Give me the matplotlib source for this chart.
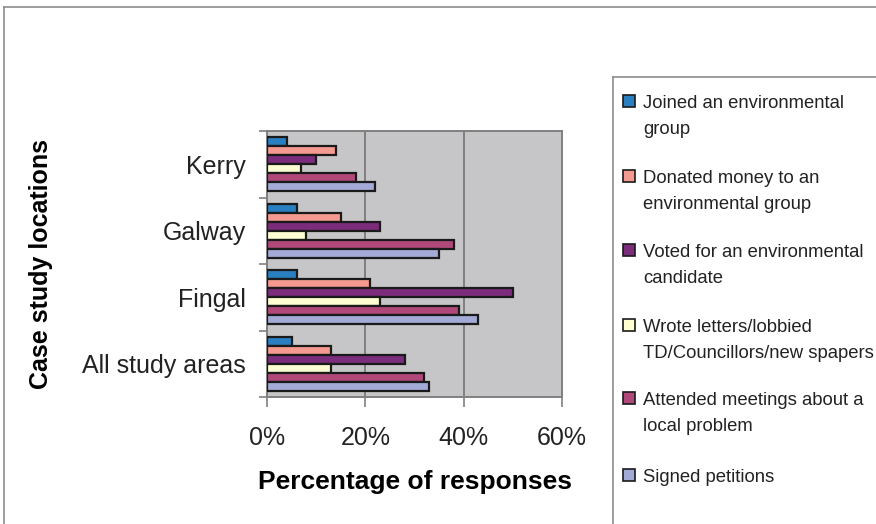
import matplotlib
matplotlib.use("Agg")
import matplotlib.pyplot as plt
from matplotlib.patches import Rectangle
import numpy as np

plt.rcParams['font.family'] = ['Liberation Sans', 'DejaVu Sans']

# data (bottom to top on the y axis)
locations = ['All study areas', 'Fingal', 'Galway', 'Kerry']
series_names = [
    'Joined an environmental\ngroup',
    'Donated money to an\nenvironmental group',
    'Voted for an environmental\ncandidate',
    'Wrote letters/lobbied\nTD/Councillors/new spapers',
    'Attended meetings about a\nlocal problem',
    'Signed petitions',
]
joined = [5, 6, 6, 4]
donated = [13, 21, 15, 14]
voted = [28, 50, 23, 10]
wrote = [13, 23, 8, 7]
attended = [32, 39, 38, 18]
signed = [33, 43, 35, 22]
colors = ['#2A7FC0', '#F59A90', '#7B2C7A', '#FFFFD2', '#B0497A', '#A3AAD6']
x_ticks = [0, 20, 40, 60]

all_series = [joined, donated, voted, wrote, attended, signed]

fig = plt.figure(figsize=(8.76, 5.24), dpi=100)
ax = fig.add_axes([267 / 876, 1 - 397 / 524, 295 / 876, 266 / 524])
ax.set_facecolor('#C6C6C8')

pos = np.arange(len(locations))
bh = 0.135
for i, vals in enumerate(all_series):
    ax.barh(pos + (2.5 - i) * bh, vals, height=bh, color=colors[i],
            edgecolor='#1a1a1a', linewidth=1.6, zorder=3)

ax.set_xlim(0, 60)
ax.set_ylim(-0.5, len(locations) - 0.5)

ax.set_xticks(x_ticks)
ax.set_xticklabels([f'{t}%' for t in x_ticks], fontsize=18, color='#222222')
ax.xaxis.grid(True, color='#808080', linewidth=1.4, zorder=1)
ax.tick_params(axis='x', length=7, width=1.2, color='#808080', pad=14)

ax.set_yticks(np.arange(-0.5, len(locations)), minor=False)
ax.set_yticklabels([])
ax.set_yticks(pos, minor=True)
ax.set_yticklabels(locations, minor=True, fontsize=18, color='#222222')
ax.tick_params(axis='y', which='major', length=6, width=1.2, color='#808080')
ax.tick_params(axis='y', which='minor', length=0, pad=15)

for s in ax.spines.values():
    s.set_color('#808080')
    s.set_linewidth(1.4)

ax.set_xlabel('Percentage of responses', fontsize=19, fontweight='bold')
ax.set_ylabel('Case study locations', fontsize=18, fontweight='bold')
ax.xaxis.set_label_coords(415 / 876, 1 - 482 / 524, transform=fig.transFigure)
ax.xaxis.label.set_verticalalignment('center')
ax.yaxis.set_label_coords(41 / 876, 1 - 264 / 524, transform=fig.transFigure)
ax.yaxis.label.set_verticalalignment('center')

# outer chart border (top and left) and legend frame
fig.add_artist(plt.Line2D([4 / 876, 1], [1 - 7 / 524] * 2, color='#8c8c8c', lw=1.2))
fig.add_artist(plt.Line2D([4 / 876] * 2, [0, 1 - 7 / 524], color='#8c8c8c', lw=1.2))
fig.add_artist(plt.Line2D([613 / 876, 1], [1 - 77 / 524] * 2, color='#8c8c8c', lw=1.2))
fig.add_artist(plt.Line2D([613 / 876] * 2, [0, 1 - 77 / 524], color='#8c8c8c', lw=1.2))

# legend entries
first_line_y = [101, 176, 250, 325, 398, 475]
for i, name in enumerate(series_names):
    yc = first_line_y[i]
    fig.add_artist(Rectangle((623 / 876, 1 - (yc + 6) / 524), 12 / 876, 12 / 524,
                             facecolor=colors[i], edgecolor='#1a1a1a', linewidth=1.2,
                             transform=fig.transFigure))
    fig.text(643 / 876, 1 - (yc - 6) / 524, name, fontsize=13.3, color='#222222',
             va='top', ha='left', linespacing=1.66)

fig.savefig('out.png', dpi=100)
